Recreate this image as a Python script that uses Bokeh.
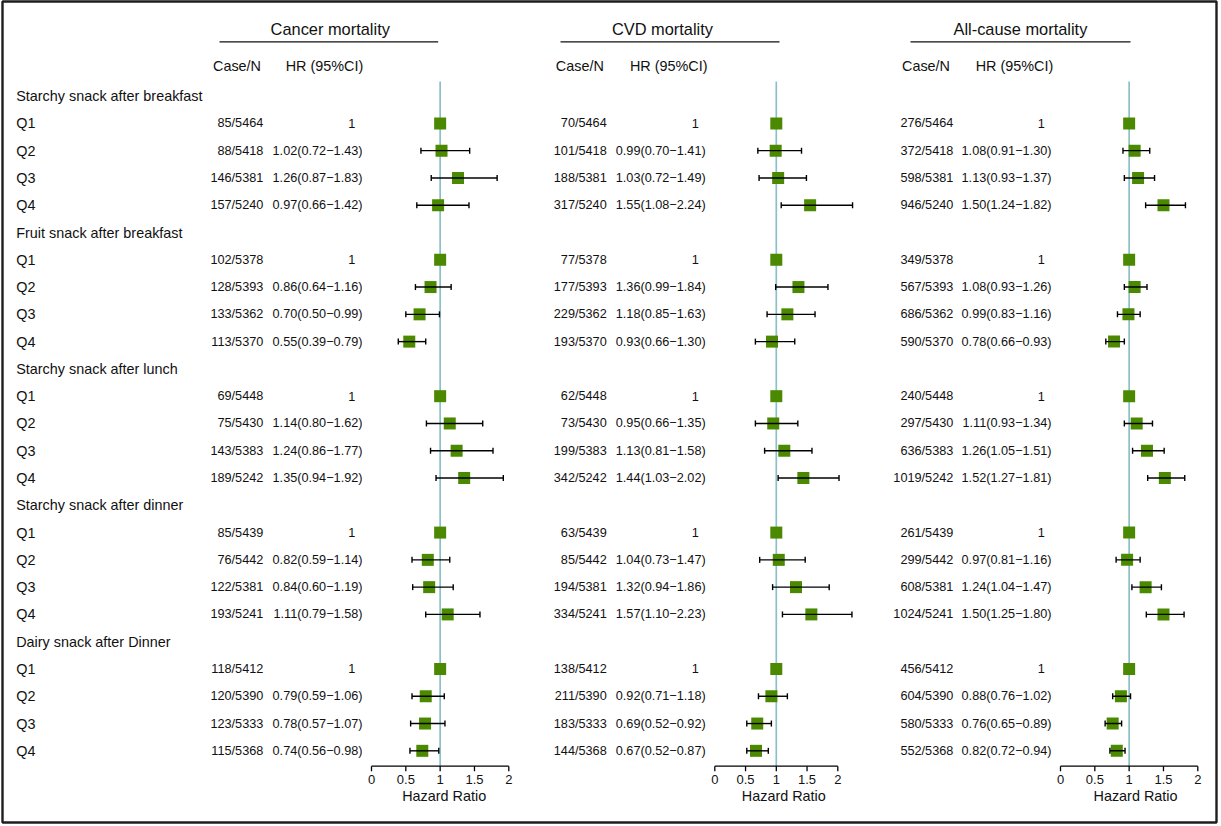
from bokeh.plotting import figure
from bokeh.models import Range1d, ColumnDataSource, Whisker, TeeHead
from bokeh.core.properties import value
from bokeh.embed import file_html
from bokeh.resources import INLINE

# ---------------- data ----------------
groups = ["Starchy snack after breakfast", "Fruit snack after breakfast",
          "Starchy snack after lunch", "Starchy snack after dinner",
          "Dairy snack after Dinner"]
quartiles = ["Q1", "Q2", "Q3", "Q4"]

n_total = [5464, 5418, 5381, 5240, 5378, 5393, 5362, 5370, 5448, 5430, 5383, 5242,
           5439, 5442, 5381, 5241, 5412, 5390, 5333, 5368]

cancer_case = [85, 88, 146, 157, 102, 128, 133, 113, 69, 75, 143, 189,
               85, 76, 122, 193, 118, 120, 123, 115]
cancer_hr = [1, 1.02, 1.26, 0.97, 1, 0.86, 0.70, 0.55, 1, 1.14, 1.24, 1.35,
             1, 0.82, 0.84, 1.11, 1, 0.79, 0.78, 0.74]
cancer_lo = [None, 0.72, 0.87, 0.66, None, 0.64, 0.50, 0.39, None, 0.80, 0.86, 0.94,
             None, 0.59, 0.60, 0.79, None, 0.59, 0.57, 0.56]
cancer_hi = [None, 1.43, 1.83, 1.42, None, 1.16, 0.99, 0.79, None, 1.62, 1.77, 1.92,
             None, 1.14, 1.19, 1.58, None, 1.06, 1.07, 0.98]

cvd_case = [70, 101, 188, 317, 77, 177, 229, 193, 62, 73, 199, 342,
            63, 85, 194, 334, 138, 211, 183, 144]
cvd_hr = [1, 0.99, 1.03, 1.55, 1, 1.36, 1.18, 0.93, 1, 0.95, 1.13, 1.44,
          1, 1.04, 1.32, 1.57, 1, 0.92, 0.69, 0.67]
cvd_lo = [None, 0.70, 0.72, 1.08, None, 0.99, 0.85, 0.66, None, 0.66, 0.81, 1.03,
          None, 0.73, 0.94, 1.10, None, 0.71, 0.52, 0.52]
cvd_hi = [None, 1.41, 1.49, 2.24, None, 1.84, 1.63, 1.30, None, 1.35, 1.58, 2.02,
          None, 1.47, 1.86, 2.23, None, 1.18, 0.92, 0.87]

all_case = [276, 372, 598, 946, 349, 567, 686, 590, 240, 297, 636, 1019,
            261, 299, 608, 1024, 456, 604, 580, 552]
all_hr = [1, 1.08, 1.13, 1.50, 1, 1.08, 0.99, 0.78, 1, 1.11, 1.26, 1.52,
          1, 0.97, 1.24, 1.50, 1, 0.88, 0.76, 0.82]
all_lo = [None, 0.91, 0.93, 1.24, None, 0.93, 0.83, 0.66, None, 0.93, 1.05, 1.27,
          None, 0.81, 1.04, 1.25, None, 0.76, 0.65, 0.72]
all_hi = [None, 1.30, 1.37, 1.82, None, 1.26, 1.16, 0.93, None, 1.34, 1.51, 1.81,
          None, 1.16, 1.47, 1.80, None, 1.02, 0.89, 0.94]

tick_values = [0, 0.5, 1, 1.5, 2]
tick_labels = ["0", "0.5", "1", "1.5", "2"]
axis_title = "Hazard Ratio"
col_case = "Case/N"
col_hr = "HR (95%CI)"

# ---------------- layout helpers ----------------
ROW0, ROWH = 95.6, 27.28          # pixel position of row 0 and row pitch


def row_at(px):
    return (px - ROW0) / ROWH


FONT = value("Liberation Sans")
TXT = "#111111"
GREEN = "#4B8A00"
REFC = "#8CC0C7"

FX0, FX1 = 2, 1216               # frame pixel extent
FY0, FY1 = 1, 822

p = figure(width=1218, height=824, output_backend="svg", toolbar_location=None,
           x_range=Range1d(FX0, FX1), y_range=Range1d(row_at(FY1), row_at(FY0)),
           x_axis_location=None, y_axis_location=None,
           min_border_left=2, min_border_right=2, min_border_top=1, min_border_bottom=2)
p.grid.visible = False
p.outline_line_color = "#1e1e1e"
p.outline_line_width = 2.4
p.background_fill_color = "white"
p.border_fill_color = "white"

# row indices: group header at 5g, quartile q at 5g+1+q
label_rows, label_text = [], []
data_rows = []
for g, name in enumerate(groups):
    label_rows.append(5 * g)
    label_text.append(name)
    for q, qn in enumerate(quartiles):
        label_rows.append(5 * g + 1 + q)
        label_text.append(qn)
        data_rows.append(5 * g + 1 + q)

p.text(x=[15.7] * len(label_rows), y=label_rows, text=label_text, text_font=FONT,
       text_font_size="14.4px", text_align="left", text_baseline="middle", text_color=TXT)

panels = [
    dict(name="cancer", title="Cancer  mortality", px0=371.0, scale=68.65, title_x=332.0,
         ul=(219.0, 437.7), casen_x=212.5, hrhead_x=362.7, case_x=262.8, hr_x=362.0,
         one_x=351.2, hz_x=443.7, case=cancer_case, hr=cancer_hr, lo=cancer_lo, hi=cancer_hi),
    dict(name="cvd", title="CVD  mortality", px0=714.3, scale=61.5, title_x=664.2,
         ul=(560.0, 779.0), casen_x=555.3, hrhead_x=707.0, case_x=606.2, hr_x=705.2,
         one_x=694.7, hz_x=783.3, case=cvd_case, hr=cvd_hr, lo=cvd_lo, hi=cvd_hi),
    dict(name="all", title="All-cause  mortality", px0=1060.0, scale=68.65, title_x=1022.2,
         ul=(910.0, 1130.0), casen_x=901.5, hrhead_x=1052.7, case_x=952.8, hr_x=1051.0,
         one_x=1040.7, hz_x=1135.0, case=all_case, hr=all_hr, lo=all_lo, hi=all_hi),
]

extra = {}
for pn in panels:
    extra[pn["name"]] = Range1d((FX0 - pn["px0"]) / pn["scale"], (FX1 - pn["px0"]) / pn["scale"])
p.extra_x_ranges = extra

y_axis = row_at(765.7)
for pn in panels:
    nm = pn["name"]
    # title + underline
    p.text(x=[pn["title_x"]], y=[row_at(28.5)], text=[pn["title"]], text_font=FONT,
           text_font_size="16.4px", text_align="center", text_baseline="middle", text_color=TXT)
    p.segment(x0=[pn["ul"][0]], x1=[pn["ul"][1]], y0=[row_at(41.3)], y1=[row_at(41.3)],
              line_color=TXT, line_width=1.3)
    # column headers
    p.text(x=[pn["casen_x"]], y=[row_at(65)], text=[col_case], text_font=FONT,
           text_font_size="14.4px", text_align="left", text_baseline="middle", text_color=TXT)
    p.text(x=[pn["hrhead_x"]], y=[row_at(65)], text=[col_hr], text_font=FONT,
           text_font_size="14.4px", text_align="right", text_baseline="middle", text_color=TXT)
    # data columns
    case_txt = [f"{c}/{n}" for c, n in zip(pn["case"], n_total)]
    p.text(x=[pn["case_x"]] * len(data_rows), y=data_rows, text=case_txt, text_font=FONT,
           text_font_size="12.7px", text_align="right", text_baseline="middle", text_color=TXT)
    ci_rows, ci_txt, one_rows = [], [], []
    for r, h, lo, hi in zip(data_rows, pn["hr"], pn["lo"], pn["hi"]):
        if lo is None:
            one_rows.append(r)
        else:
            ci_rows.append(r)
            ci_txt.append(f"{h:.2f}({lo:.2f}\u2212{hi:.2f})")
    p.text(x=[pn["hr_x"]] * len(ci_rows), y=ci_rows, text=ci_txt, text_font=FONT,
           text_font_size="12.7px", text_align="right", text_baseline="middle", text_color=TXT)
    p.text(x=[pn["one_x"]] * len(one_rows), y=one_rows, text=["1"] * len(one_rows), text_font=FONT,
           text_font_size="12.7px", text_align="center", text_baseline="middle", text_color=TXT)

    # reference line at HR = 1
    p.segment(x0=[1], x1=[1], y0=[row_at(81)], y1=[y_axis], x_range_name=nm,
              line_color=REFC, line_width=1.7)

    # confidence intervals
    wsrc = ColumnDataSource(dict(
        y=[r for r, lo in zip(data_rows, pn["lo"]) if lo is not None],
        lo=[lo for lo in pn["lo"] if lo is not None],
        hi=[hi for hi in pn["hi"] if hi is not None]))
    w = Whisker(source=wsrc, base="y", lower="lo", upper="hi", dimension="width",
                x_range_name=nm, line_color="black", line_width=1.4,
                upper_head=TeeHead(size=6, line_color="black", line_width=1.4),
                lower_head=TeeHead(size=6, line_color="black", line_width=1.4))
    w.level = "glyph"
    p.add_layout(w)

    # point estimates
    msrc = ColumnDataSource(dict(y=data_rows, hr=pn["hr"]))
    p.scatter(x="hr", y="y", source=msrc, marker="square", size=12, fill_color=GREEN,
              line_color=None, x_range_name=nm)

    # hand-drawn x axis
    p.segment(x0=[tick_values[0]], x1=[tick_values[-1]], y0=[y_axis], y1=[y_axis],
              x_range_name=nm, line_color="black", line_width=1.3)
    p.segment(x0=tick_values, x1=tick_values, y0=[y_axis] * 5, y1=[row_at(770.7)] * 5,
              x_range_name=nm, line_color="black", line_width=1.3)
    p.text(x=tick_values, y=[row_at(778.5)] * 5, text=tick_labels, x_range_name=nm,
           text_font=FONT, text_font_size="13px", text_align="center",
           text_baseline="middle", text_color=TXT)
    p.text(x=[pn["hz_x"]], y=[row_at(795.7)], text=[axis_title], text_font=FONT,
           text_font_size="14.4px", text_align="center", text_baseline="middle", text_color=TXT)

open("out.html", "w").write(file_html(p, INLINE))
